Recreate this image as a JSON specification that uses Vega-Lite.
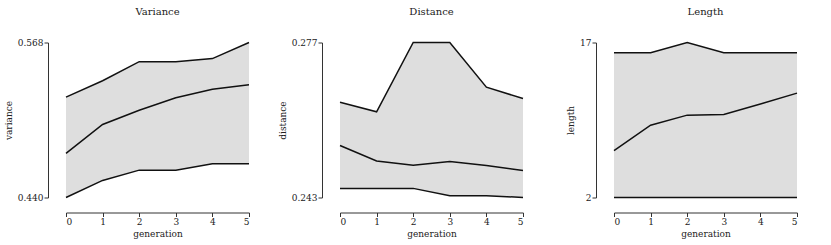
{
  "$schema": "https://vega.github.io/schema/vega-lite/v6.json",
  "background": "white",
  "padding": {"left": 4, "top": 6.5, "right": 5, "bottom": 5},
  "spacing": 91,
  "bounds": "flush",
  "config": {
    "font": "DejaVu Serif",
    "view": {"stroke": null},
    "title": {"fontSize": 10, "fontWeight": "normal", "color": "#222", "offset": 22},
    "axis": {
      "grid": false,
      "labelFontSize": 9,
      "labelColor": "#222",
      "titleFontSize": 9,
      "titleFontWeight": "normal",
      "titleColor": "#222",
      "domainColor": "#333",
      "tickColor": "#333",
      "tickSize": 4,
      "labelPadding": 1
    },
    "axisX": {"offset": 15, "titlePadding": 3},
    "axisY": {"offset": 18, "titlePadding": 4}
  },
  "datasets": {
    "stats": [
      {"panel": "Variance", "generation": 0, "min": 0.440, "mean": 0.4765, "max": 0.5229},
      {"panel": "Variance", "generation": 1, "min": 0.4541, "mean": 0.5003, "max": 0.5364},
      {"panel": "Variance", "generation": 2, "min": 0.4626, "mean": 0.5121, "max": 0.5522},
      {"panel": "Variance", "generation": 3, "min": 0.4626, "mean": 0.5223, "max": 0.5522},
      {"panel": "Variance", "generation": 4, "min": 0.4679, "mean": 0.5293, "max": 0.5547},
      {"panel": "Variance", "generation": 5, "min": 0.4679, "mean": 0.5331, "max": 0.568},
      {"panel": "Distance", "generation": 0, "min": 0.2450, "mean": 0.2544, "max": 0.2639},
      {"panel": "Distance", "generation": 1, "min": 0.2450, "mean": 0.2510, "max": 0.2618},
      {"panel": "Distance", "generation": 2, "min": 0.2450, "mean": 0.2501, "max": 0.277},
      {"panel": "Distance", "generation": 3, "min": 0.2434, "mean": 0.2509, "max": 0.277},
      {"panel": "Distance", "generation": 4, "min": 0.2434, "mean": 0.2500, "max": 0.2672},
      {"panel": "Distance", "generation": 5, "min": 0.243, "mean": 0.2489, "max": 0.2647},
      {"panel": "Length", "generation": 0, "min": 2, "mean": 6.54, "max": 16},
      {"panel": "Length", "generation": 1, "min": 2, "mean": 9.0, "max": 16},
      {"panel": "Length", "generation": 2, "min": 2, "mean": 9.97, "max": 17},
      {"panel": "Length", "generation": 3, "min": 2, "mean": 10.03, "max": 16},
      {"panel": "Length", "generation": 4, "min": 2, "mean": 11.05, "max": 16},
      {"panel": "Length", "generation": 5, "min": 2, "mean": 12.1, "max": 16}
    ]
  },
  "hconcat": [
    {
      "title": "Variance",
      "width": 183, "height": 155,
      "data": {"name": "stats"},
      "transform": [{"filter": "datum.panel === 'Variance'"}],
      "encoding": {
        "x": {"field": "generation", "type": "quantitative", "scale": {"domain": [0, 5], "nice": false}, "axis": {"values": [0,1,2,3,4,5], "format": "d", "title": "generation"}}
      },
      "layer": [
        {"mark": {"type": "area", "color": "#dedede", "opacity": 1}, "encoding": {"y": {"field": "min", "type": "quantitative", "scale": {"domain": [0.440, 0.568], "nice": false, "zero": false}, "axis": {"values": [0.440, 0.568], "format": ".3f", "title": "variance"}}, "y2": {"field": "max"}}},
        {"mark": {"type": "line", "color": "#111", "strokeWidth": 1.5}, "encoding": {"y": {"field": "min", "type": "quantitative"}}},
        {"mark": {"type": "line", "color": "#111", "strokeWidth": 1.5}, "encoding": {"y": {"field": "mean", "type": "quantitative"}}},
        {"mark": {"type": "line", "color": "#111", "strokeWidth": 1.5}, "encoding": {"y": {"field": "max", "type": "quantitative"}}}
      ]
    },
    {
      "title": "Distance",
      "width": 183, "height": 155,
      "data": {"name": "stats"},
      "transform": [{"filter": "datum.panel === 'Distance'"}],
      "encoding": {
        "x": {"field": "generation", "type": "quantitative", "scale": {"domain": [0, 5], "nice": false}, "axis": {"values": [0,1,2,3,4,5], "format": "d", "title": "generation"}}
      },
      "layer": [
        {"mark": {"type": "area", "color": "#dedede", "opacity": 1}, "encoding": {"y": {"field": "min", "type": "quantitative", "scale": {"domain": [0.243, 0.277], "nice": false, "zero": false}, "axis": {"values": [0.243, 0.277], "format": ".3f", "title": "distance"}}, "y2": {"field": "max"}}},
        {"mark": {"type": "line", "color": "#111", "strokeWidth": 1.5}, "encoding": {"y": {"field": "min", "type": "quantitative"}}},
        {"mark": {"type": "line", "color": "#111", "strokeWidth": 1.5}, "encoding": {"y": {"field": "mean", "type": "quantitative"}}},
        {"mark": {"type": "line", "color": "#111", "strokeWidth": 1.5}, "encoding": {"y": {"field": "max", "type": "quantitative"}}}
      ]
    },
    {
      "title": "Length",
      "width": 183, "height": 155,
      "data": {"name": "stats"},
      "transform": [{"filter": "datum.panel === 'Length'"}],
      "encoding": {
        "x": {"field": "generation", "type": "quantitative", "scale": {"domain": [0, 5], "nice": false}, "axis": {"values": [0,1,2,3,4,5], "format": "d", "title": "generation"}}
      },
      "layer": [
        {"mark": {"type": "area", "color": "#dedede", "opacity": 1}, "encoding": {"y": {"field": "min", "type": "quantitative", "scale": {"domain": [2, 17], "nice": false, "zero": false}, "axis": {"values": [2, 17], "format": "d", "title": "length"}}, "y2": {"field": "max"}}},
        {"mark": {"type": "line", "color": "#111", "strokeWidth": 1.5}, "encoding": {"y": {"field": "min", "type": "quantitative"}}},
        {"mark": {"type": "line", "color": "#111", "strokeWidth": 1.5}, "encoding": {"y": {"field": "mean", "type": "quantitative"}}},
        {"mark": {"type": "line", "color": "#111", "strokeWidth": 1.5}, "encoding": {"y": {"field": "max", "type": "quantitative"}}}
      ]
    }
  ]
}
